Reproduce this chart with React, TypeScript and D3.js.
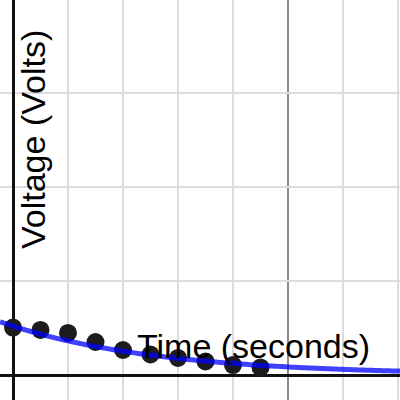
import React from "react";
import * as d3 from "d3";

// Data
const times = [0, 0.5, 1, 1.5, 2, 2.5, 3, 3.5, 4, 4.5];
const voltages = [0.505, 0.479, 0.447, 0.351, 0.266, 0.218, 0.181, 0.144, 0.106, 0.08];
// Exponential fit y = A * exp(-K * x)
const fitA = 0.52;
const fitK = 0.36;
const xLabel = "Time (seconds)";
const yLabel = "Voltage (Volts)";

const W = 400;
const H = 400;

export default function App() {
  const x = d3.scaleLinear().domain([0, 1]).range([13, 68]);
  const y = d3.scaleLinear().domain([0, 1]).range([375, 281]);
  const xMin = x.invert(0);
  const xMax = x.invert(W);
  const yMin = y.invert(H);
  const yMax = y.invert(0);

  const xGrid = d3.range(Math.ceil(xMin), Math.floor(xMax) + 1);
  const yGrid = d3.range(Math.ceil(yMin), Math.floor(yMax) + 1);

  const curveXs = d3.range(0, 201).map((i) => xMin + ((xMax - xMin) * i) / 200);
  const line = d3
    .line<number>()
    .x((d) => x(d))
    .y((d) => y(fitA * Math.exp(-fitK * d)));

  return (
    <svg
      width={W}
      height={H}
      style={{ position: "fixed", left: 0, top: 0, background: "#fff" }}
      fontFamily="'Liberation Sans', Arial, sans-serif"
    >
      <rect width={W} height={H} fill="#fff" />
      {xGrid
        .filter((v) => v !== 0)
        .map((v) => (
          <line
            key={"gx" + v}
            x1={x(v)}
            x2={x(v)}
            y1={0}
            y2={H}
            stroke={v % 5 === 0 ? "#8a8a8a" : "#dcdcdc"}
            strokeWidth={2}
          />
        ))}
      {yGrid
        .filter((v) => v !== 0)
        .map((v) => (
          <line
            key={"gy" + v}
            x1={0}
            x2={W}
            y1={y(v)}
            y2={y(v)}
            stroke={v % 5 === 0 ? "#8a8a8a" : "#dcdcdc"}
            strokeWidth={2}
          />
        ))}
      <line x1={0} x2={W} y1={y(0) + 0.5} y2={y(0) + 0.5} stroke="#111" strokeWidth={3} />
      <line x1={x(0) + 0.5} x2={x(0) + 0.5} y1={0} y2={H} stroke="#111" strokeWidth={3} />

      {times.map((t, i) => (
        <circle key={"p" + i} cx={x(t)} cy={y(voltages[i])} r={9} fill="#1c1c1c" />
      ))}

      <path
        d={line(curveXs) || ""}
        fill="none"
        stroke="#0000ff"
        strokeOpacity={0.75}
        strokeWidth={5}
      />

      <text x={137} y={358} fontSize={34} fill="#000">
        {xLabel}
      </text>
      <text
        transform={`translate(45,249) rotate(-90)`}
        fontSize={34}
        fill="#000"
      >
        {yLabel}
      </text>
    </svg>
  );
}
